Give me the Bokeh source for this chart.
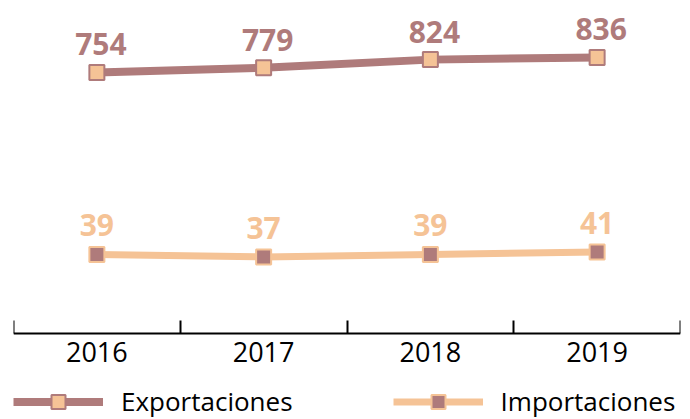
from bokeh.plotting import figure
from bokeh.models import (Range1d, FixedTicker, Legend, LegendItem, LinearAxis,
                          ColumnDataSource, LabelSet)
from bokeh.core.properties import value
from bokeh.embed import file_html
from bokeh.resources import INLINE

years = ["2016", "2017", "2018", "2019"]
exportaciones = [754, 779, 824, 836]
importaciones = [39, 37, 39, 41]

EXP = "#AF7B7B"
IMP = "#F5C396"

xs = [i + 0.5 for i in range(len(years))]
src = ColumnDataSource(dict(x=xs, exp=exportaciones, imp=importaciones,
                            exp_t=[str(v) for v in exportaciones],
                            imp_t=[str(v) for v in importaciones]))

p = figure(width=690, height=419, output_backend="svg", toolbar_location=None,
           x_range=Range1d(0, len(years)), y_range=Range1d(-1142, 1147),
           min_border_left=13, min_border_right=10, min_border_top=0,
           min_border_bottom=0, x_axis_location=None, y_axis_location=None)
p.extra_y_ranges = {"imp": Range1d(-93, 242)}
p.grid.visible = False
p.outline_line_color = None
p.background_fill_color = None
p.border_fill_color = "white"

ticker = FixedTicker(ticks=xs, minor_ticks=list(range(len(years) + 1)))
xaxis = LinearAxis(ticker=ticker, fixed_location=-672)
xaxis.major_label_overrides = {x: y for x, y in zip(xs, years)}
xaxis.major_tick_in = 0
xaxis.major_tick_out = 0
xaxis.minor_tick_in = 13
xaxis.minor_tick_out = 0
xaxis.minor_tick_line_color = "black"
xaxis.minor_tick_line_width = 2
xaxis.axis_line_color = "black"
xaxis.axis_line_width = 2
xaxis.major_label_text_font = "Open Sans"
xaxis.major_label_text_font_size = "27px"
xaxis.major_label_text_color = "black"
xaxis.major_label_standoff = 9
p.add_layout(xaxis, "below")

exp_line = p.line("x", "exp", source=src, line_color=EXP, line_width=8)
exp_mark = p.scatter("x", "exp", source=src, marker="square", size=15,
                     fill_color=IMP, line_color=EXP, line_width=2)
imp_line = p.line("x", "imp", source=src, line_color=IMP, line_width=7, y_range_name="imp")
imp_mark = p.scatter("x", "imp", source=src, marker="square", size=15,
                     fill_color=EXP, line_color=IMP, line_width=2, y_range_name="imp")

p.add_layout(LabelSet(x="x", y="exp", text="exp_t", source=src, text_color=EXP,
                      text_font=value("Open Sans"), text_font_style="bold",
                      text_font_size="30px",
                      text_align="center", text_baseline="alphabetic",
                      x_offset=4, y_offset=17))
p.add_layout(LabelSet(x="x", y="imp", text="imp_t", source=src, text_color=IMP,
                      text_font=value("Open Sans"), text_font_style="bold",
                      text_font_size="30px",
                      text_align="center", text_baseline="alphabetic",
                      x_offset=0, y_offset=18, y_range_name="imp"))

legend = Legend(items=[LegendItem(label="Exportaciones", renderers=[exp_line, exp_mark]),
                       LegendItem(label="Importaciones", renderers=[imp_line, imp_mark])],
                orientation="horizontal", location=(0, 0))
legend.glyph_width = 90
legend.glyph_height = 35
legend.label_standoff = 18
legend.spacing = 100
legend.padding = 0
legend.margin = 0
legend.border_line_color = None
legend.background_fill_alpha = 0
legend.label_text_font = "Open Sans"
legend.label_text_font_size = "26px"
legend.label_text_color = "black"
p.add_layout(legend)

open("out.html", "w").write(file_html(p, INLINE))
